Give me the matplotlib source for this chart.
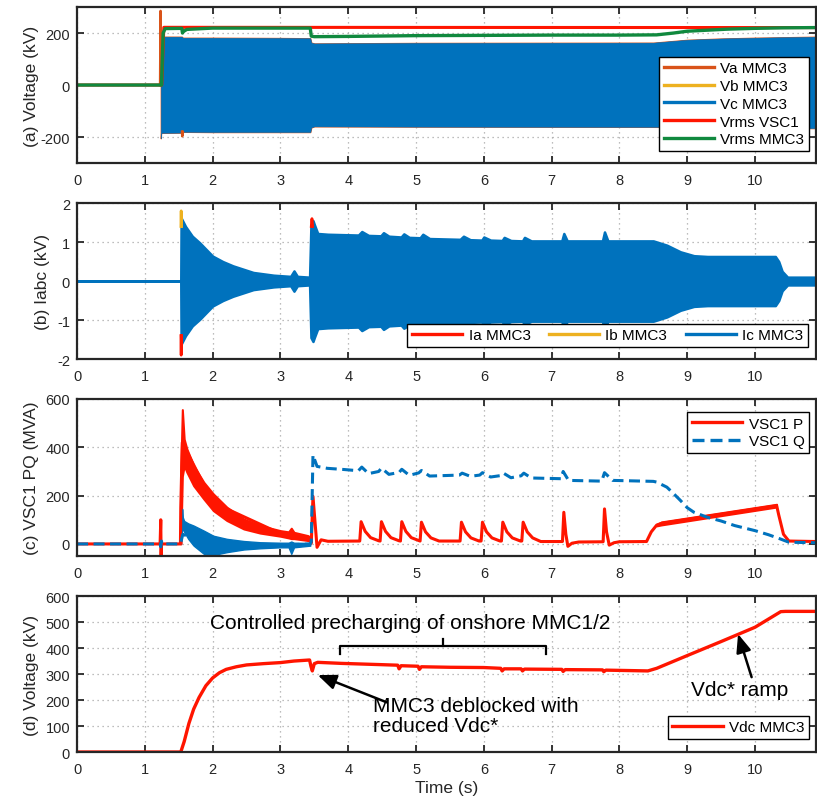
import matplotlib
matplotlib.use("Agg")
import matplotlib.pyplot as plt
from matplotlib.lines import Line2D

plt.rcParams.update({
    "font.family": ["Liberation Sans", "DejaVu Sans"], "font.size": 10,
    "axes.linewidth": 1.6, "axes.edgecolor": "#262626", "axes.unicode_minus": False,
    "xtick.color": "#262626", "ytick.color": "#262626",
    "xtick.labelsize": 10.5, "ytick.labelsize": 10.5,
})

C_VA, C_VB, C_VC = "#D95319", "#EDB120", "#0072BD"
C_RED, C_GREEN = "#FF1500", "#10893E"

# (a) MMC3 phase voltages (envelope of the AC waveform) and rms voltages, kV
vabc_t = [1.235, 1.24, 1.25, 1.545, 1.56, 2.0, 3.0, 3.44, 3.455, 3.5, 5.0, 8.5, 9.0, 9.5, 10.0, 10.9]
vabc_hi = [186, 186, 186, 186, 182, 182, 181, 180, 163, 160, 162, 163, 174, 179, 182, 186]
vabc_lo = [-205, -186, -184, -183, -180, -181, -181, -181, -163, -159, -160, -161, -162, -163, -164, -166]
va_spike_t = [1.225, 1.232, 1.238]
va_spike_v = [0, 285, 0]
va_dip_t = [1.548, 1.552, 1.556]
va_dip_v = [-180, -197, -180]
vrms_vsc1_t = [0, 1.25, 1.28, 10.9]
vrms_vsc1 = [0, 0, 222, 221]
vrms_mmc3_t = [0, 1.245, 1.27, 1.3, 1.545, 1.555, 1.57, 1.62, 2.0, 3.44, 3.455, 3.5, 4.0,
               5.0, 6.0, 7.0, 8.0, 8.55, 8.8, 9.0, 9.3, 9.6, 10.0, 10.4, 10.9]
vrms_mmc3 = [0, 0, 200, 217, 218, 200, 206, 214, 219, 219, 188, 186, 187,
             190, 191, 192, 192, 193, 200, 207, 211, 215, 218, 220, 221]

# (b) MMC3 phase currents, amplitude of the AC envelope
ic_t = [0, 1.53, 1.535, 1.6, 1.7, 1.81, 2.0, 2.15, 2.3, 2.6, 2.9, 3.15, 3.2, 3.25, 3.43,
        3.45, 3.48, 3.5, 3.55, 3.7, 4.15, 4.2, 4.3, 4.48, 4.52, 4.6, 4.78, 4.82, 4.9, 5.06,
        5.1, 5.2, 5.65, 5.7, 5.8, 5.97, 6.0, 6.1, 6.27, 6.3, 6.4, 6.57, 6.6, 6.7, 7.15,
        7.18, 7.23, 7.75, 7.78, 7.83, 8.5, 8.7, 8.9, 9.1, 9.3, 10.3, 10.35, 10.4, 10.48, 10.9]
ic_amp = [0, 0, 1.62, 1.4, 1.15, 0.98, 0.64, 0.5, 0.39, 0.22, 0.15, 0.12, 0.26, 0.12, 0.1,
          1.45, 1.55, 1.45, 1.22, 1.2, 1.18, 1.27, 1.17, 1.16, 1.24, 1.15, 1.13, 1.21, 1.12, 1.11,
          1.2, 1.09, 1.07, 1.15, 1.06, 1.05, 1.13, 1.05, 1.04, 1.12, 1.04, 1.03, 1.12, 1.03, 1.03,
          1.22, 1.03, 1.03, 1.26, 1.03, 1.03, 0.92, 0.75, 0.65, 0.63, 0.63, 0.5, 0.25, 0.1, 0.1]
ia_spike1_t = [1.532, 1.536, 1.54]
ia_spike1_v = [-1.4, -1.9, -1.4]
ia_spike2_t = [3.455, 3.465, 3.475]
ia_spike2_v = [1.4, 1.6, 1.4]
ib_spike_t = [1.532, 1.536, 1.54]
ib_spike_v = [1.4, 1.8, 1.4]

# (c) VSC1 active / reactive power, MVA
p_t = [0, 1.225, 1.235, 1.24, 1.245, 1.525, 1.53, 1.553, 2.0, 3.0, 3.44, 3.455, 3.48, 3.54, 3.6, 3.7,
       4.17, 4.19, 4.25, 4.33, 4.45, 4.47, 4.49, 4.55, 4.63, 4.75, 4.77, 4.79, 4.85, 4.93, 5.05,
       5.06, 5.08, 5.14, 5.22, 5.34, 5.65, 5.67, 5.73, 5.81, 5.93, 5.96, 5.98, 6.04, 6.12, 6.24,
       6.26, 6.28, 6.34, 6.42, 6.54, 6.56, 6.58, 6.64, 6.72, 6.84, 7.16, 7.18, 7.21, 7.24, 7.3, 7.4,
       7.76, 7.78, 7.81, 7.85, 7.92, 8.0, 8.4, 8.47, 8.55, 8.62, 10.32, 10.35, 10.42, 10.5, 10.9]
p_v = [0, 0, 100, -50, 0, 0, 150, 420, 172, 43, 18, 3, 197, -14, 17, 11,
       12, 92, 52, 26, 13, 12, 92, 52, 26, 13, 12, 92, 52, 26, 13,
       12, 90, 50, 25, 12, 12, 90, 50, 25, 12, 12, 90, 50, 25, 12,
       12, 90, 50, 25, 12, 12, 90, 50, 25, 10, 10, 131, 40, -10, 3, 8,
       9, 145, 50, -5, 5, 9, 10, 50, 78, 85, 158, 120, 40, 12, 10]
pb_t = [1.53, 1.553, 1.58, 1.62, 1.72, 1.87, 2.01, 2.21, 2.46, 2.7, 3.0, 3.12, 3.16, 3.2, 3.41, 3.44]
pb_hi = [300, 556, 434, 393, 324, 255, 207, 152, 103, 76, 55, 50, 65, 48, 34, 25]
pb_lo = [0, 280, 324, 297, 241, 186, 138, 97, 62, 45, 32, 25, 22, 22, 14, 10]
pr_t = [8.55, 8.62, 10.32]
pr_hi = [82, 92, 165]
pr_lo = [74, 78, 152]
q_t = [0, 1.225, 1.235, 1.245, 1.255, 1.525, 1.56, 2.0, 3.0, 3.44, 3.455, 3.48, 3.54, 3.69, 3.94,
       4.15, 4.2, 4.3, 4.45, 4.49, 4.6, 4.75, 4.79, 4.9, 5.04, 5.08, 5.2, 5.64, 5.68, 5.8,
       5.94, 5.98, 6.1, 6.25, 6.29, 6.4, 6.55, 6.59, 6.7, 7.14, 7.17, 7.25, 7.74, 7.78, 7.9,
       8.5, 8.55, 8.7, 8.8, 8.9, 9.0, 9.1, 9.3, 9.5, 9.7, 10.0, 10.2, 10.37, 10.5, 10.9]
q_v = [0, 0, -12, 12, 0, 0, 40, -10, -5, 0, 10, 368, 321, 313, 308,
       303, 318, 291, 300, 314, 288, 296, 309, 284, 294, 304, 281, 285, 293, 280,
       285, 295, 277, 283, 293, 274, 282, 293, 273, 270, 300, 263, 260, 295, 263,
       259, 256, 235, 208, 180, 150, 131, 110, 95, 76, 55, 38, 21, 7, 5]
qb_t = [1.53, 1.55, 1.56, 1.58, 1.64, 1.72, 1.87, 1.97, 2.01, 2.21, 2.46, 2.7, 3.0, 3.12, 3.16, 3.2, 3.44]
qb_hi = [0, 145, 110, 95, 85, 76, 55, 40, 34, 21, 12, 7, 5, 5, 10, 5, 4]
qb_lo = [0, 60, 62, 50, 21, -7, -41, -48, -46, -34, -23, -18, -14, -14, -41, -14, -7]

# (d) MMC3 DC voltage, kV
vdc_t = [0, 1.53, 1.58, 1.65, 1.72, 1.8, 1.9, 2.0, 2.1, 2.2, 2.35, 2.5, 2.75, 3.0, 3.2,
         3.43, 3.45, 3.47, 3.5, 3.55, 3.9, 4.5, 4.73, 4.75, 4.78, 5.03, 5.05, 5.08, 5.5, 6.0,
         6.25, 6.27, 6.3, 6.55, 6.57, 6.6, 7.15, 7.17, 7.2, 7.75, 7.77, 7.8, 8.42, 8.55, 9.0,
         9.5, 10.0, 10.38, 10.45, 10.9]
vdc_v = [0, 0, 40, 110, 165, 210, 255, 285, 305, 318, 328, 335, 340, 344, 350,
         354, 330, 312, 340, 345, 341, 336, 334, 320, 332, 330, 318, 328, 326, 325,
         322, 312, 320, 320, 312, 319, 318, 310, 317, 316, 309, 315, 312, 322, 371,
         425, 480, 540, 541, 541]

fig = plt.figure(figsize=(8.17, 8.04), dpi=100)
L, W = 0.0943, 0.9045
ax_a = fig.add_axes([L, 0.7960, W, 0.1940])
ax_b = fig.add_axes([L, 0.5522, W, 0.1940])
ax_c = fig.add_axes([L, 0.3072, W, 0.1953])
ax_d = fig.add_axes([L, 0.0634, W, 0.1940])


def style(ax, ylim, yticks, ylabel, lab_x):
    ax.set_xlim(0, 10.9)
    ax.set_xticks(range(0, 11))
    ax.set_ylim(*ylim)
    ax.set_yticks(yticks)
    ax.grid(True, ls=(0, (1, 3)), color="#a8a8a8", lw=0.9)
    ax.set_axisbelow(True)
    ax.tick_params(direction="in", top=True, right=True, length=5, width=1.3, pad=5)
    ax.tick_params(axis="x", pad=7)
    ax.set_ylabel(ylabel, fontsize=12.5, color="#262626")
    ax.yaxis.set_label_coords(lab_x, 0.5)


def leg(ax, handles, labels, **kw):
    lg = ax.legend(handles, labels, fontsize=11, fancybox=False, framealpha=1,
                   edgecolor="black", borderaxespad=0, borderpad=0.3, labelspacing=0.25,
                   handletextpad=0.4, handlelength=3.3, **kw)
    lg.get_frame().set_linewidth(1.0)
    return lg


# (a)
ax_a.plot(va_spike_t, va_spike_v, color=C_VA, lw=1.8)
ax_a.plot(va_dip_t, va_dip_v, color=C_VA, lw=1.8)
ax_a.fill_between(vabc_t, vabc_lo, vabc_hi, color=C_VA, lw=0.9)
ax_a.fill_between(vabc_t, vabc_lo, vabc_hi, color=C_VC, lw=0.3)
ax_a.plot(vrms_vsc1_t, vrms_vsc1, color=C_RED, lw=2.2)
ax_a.plot(vrms_mmc3_t, vrms_mmc3, color=C_GREEN, lw=2.4)
style(ax_a, (-300, 300), [-200, 0, 200], "(a) Voltage (kV)", -0.052)
leg(ax_a, [Line2D([], [], color=c, lw=2.4) for c in (C_VA, C_VB, C_VC, C_RED, C_GREEN)],
    ["Va MMC3", "Vb MMC3", "Vc MMC3", "Vrms VSC1", "Vrms MMC3"],
    loc="lower right", bbox_to_anchor=(0.9905, 0.077))

# (b)
ic_neg = [-a for a in ic_amp]
ax_b.plot(ia_spike1_t, ia_spike1_v, color=C_RED, lw=2)
ax_b.plot(ia_spike2_t, ia_spike2_v, color=C_RED, lw=2)
ax_b.plot(ib_spike_t, ib_spike_v, color=C_VB, lw=2)
ax_b.fill_between(ic_t, ic_neg, ic_amp, color=C_VC, lw=1.8)
style(ax_b, (-2, 2), [-2, -1, 0, 1, 2], "(b) Iabc (kV)", -0.036)
leg(ax_b, [Line2D([], [], color=c, lw=2.4) for c in (C_RED, C_VB, C_VC)],
    ["Ia MMC3", "Ib MMC3", "Ic MMC3"], ncol=3, columnspacing=1.2,
    loc="lower right", bbox_to_anchor=(0.989, 0.077))

# (c)
ax_c.plot(p_t, p_v, color=C_RED, lw=2.2)
ax_c.fill_between(pb_t, pb_lo, pb_hi, color=C_RED, lw=1.5)
ax_c.fill_between(pr_t, pr_lo, pr_hi, color=C_RED, lw=1.2)
ax_c.plot(q_t, q_v, color=C_VC, lw=2.2, ls=(0, (3.6, 1.8)))
ax_c.fill_between(qb_t, qb_lo, qb_hi, color=C_VC, lw=1.0)
style(ax_c, (-50, 600), [0, 200, 400, 600], "(c) VSC1 PQ (MVA)", -0.052)
leg(ax_c, [Line2D([], [], color=C_RED, lw=2.4),
           Line2D([], [], color=C_VC, lw=2.4, ls=(0, (3.6, 1.8)))],
    ["VSC1 P", "VSC1 Q"], loc="upper right", bbox_to_anchor=(0.9905, 0.917))

# (d)
ax_d.plot(vdc_t, vdc_v, color=C_RED, lw=2.4)
style(ax_d, (0, 600), range(0, 601, 100), "(d) Voltage (kV)", -0.052)
ax_d.set_xlabel("Time (s)", fontsize=12.5, color="#262626", labelpad=3)
leg(ax_d, [Line2D([], [], color=C_RED, lw=2.4)], ["Vdc MMC3"],
    loc="lower right", bbox_to_anchor=(0.9905, 0.083))

ax_d.text(4.91, 500, "Controlled precharging of onshore MMC1/2", fontsize=15,
          ha="center", va="center")
ax_d.plot([3.88, 3.88, 6.91, 6.91], [377, 408, 408, 377], color="black", lw=1.6)
ax_d.plot([5.4, 5.4], [408, 435], color="black", lw=1.6)
ax_d.text(4.37, 140, "MMC3 deblocked with\nreduced Vdc*", fontsize=15,
          ha="left", va="center", linespacing=1.1)
ax_d.text(9.78, 242, "Vdc* ramp", fontsize=15, ha="center", va="center")
arrow = dict(arrowstyle="-|>,head_length=1.1,head_width=0.45", lw=1.8, color="black",
             shrinkA=0, shrinkB=0, mutation_scale=10)
ax_d.annotate("", xy=(3.55, 296), xytext=(4.57, 191), arrowprops=arrow)
ax_d.annotate("", xy=(9.75, 454), xytext=(9.95, 288), arrowprops=arrow)

fig.savefig("out.png", dpi=100)
